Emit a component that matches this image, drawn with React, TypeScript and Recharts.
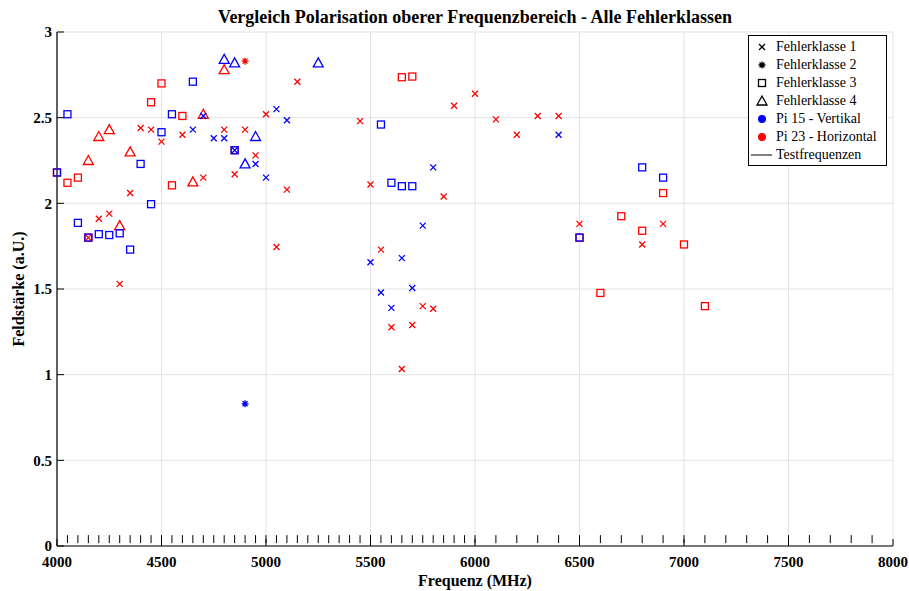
import React from "react";
import { ScatterChart, Scatter, XAxis, YAxis, CartesianGrid } from "recharts";

// x ticks / y ticks
const xTicks = [4000, 4500, 5000, 5500, 6000, 6500, 7000, 7500, 8000];
const yTicks = [0, 0.5, 1, 1.5, 2, 2.5, 3];

// Pi 15 - Vertikal (blau)
const vertKlasse1: [number, number][] = [
    [4650, 2.43], [4700, 2.51], [4750, 2.38], [4800, 2.38], [4850, 2.31], [4950, 2.23],
    [5000, 2.15], [5050, 2.55], [5100, 2.485], [5500, 1.656], [5550, 1.48], [5600, 1.39],
    [5650, 1.68], [5700, 1.506], [5750, 1.87], [5800, 2.21], [6400, 2.4],
];
const vertKlasse2: [number, number][] = [[4900, 0.83]];
const vertKlasse3: [number, number][] = [
    [4000, 2.18], [4050, 2.52], [4100, 1.886], [4150, 1.8], [4200, 1.82], [4250, 1.815],
    [4300, 1.825], [4350, 1.73], [4400, 2.23], [4450, 1.995], [4500, 2.415], [4550, 2.52],
    [4650, 2.71], [4850, 2.31], [5550, 2.46], [5600, 2.12], [5650, 2.1], [5700, 2.1],
    [6500, 1.8], [6800, 2.21], [6900, 2.15],
];
const vertKlasse4: [number, number][] = [
    [4800, 2.84], [4850, 2.82], [4900, 2.23], [4950, 2.39], [5250, 2.82],
];

// Pi 23 - Horizontal (rot)
const horKlasse1: [number, number][] = [
    [4150, 1.8], [4200, 1.91], [4250, 1.94], [4300, 1.53], [4350, 2.06], [4400, 2.44],
    [4450, 2.43], [4500, 2.36], [4600, 2.4], [4700, 2.15], [4800, 2.43], [4850, 2.17],
    [4900, 2.43], [4950, 2.28], [5000, 2.52], [5050, 1.745], [5100, 2.08], [5150, 2.71],
    [5450, 2.48], [5500, 2.11], [5550, 1.73], [5600, 1.277], [5650, 1.033], [5700, 1.29],
    [5750, 1.4], [5800, 1.385], [5850, 2.04], [5900, 2.57], [6000, 2.64], [6100, 2.49],
    [6200, 2.4], [6300, 2.51], [6400, 2.51], [6500, 1.88], [6800, 1.76], [6900, 1.88],
];
const horKlasse2: [number, number][] = [[4900, 2.83]];
const horKlasse3: [number, number][] = [
    [4000, 2.18], [4050, 2.12], [4100, 2.15], [4150, 1.8], [4450, 2.59], [4500, 2.7],
    [4550, 2.105], [4600, 2.51], [4850, 2.31], [5650, 2.736], [5700, 2.74], [6500, 1.8],
    [6600, 1.477], [6700, 1.925], [6800, 1.84], [6900, 2.06], [7000, 1.76], [7100, 1.4],
];
const horKlasse4: [number, number][] = [
    [4150, 2.25], [4200, 2.39], [4250, 2.43], [4300, 1.87], [4350, 2.3], [4650, 2.125],
    [4700, 2.52], [4800, 2.78],
];

// Testfrequenzen (MHz)
const testFrequenzen = [
    4050, 4100, 4150, 4200, 4250, 4300, 4350, 4400, 4450, 4500,
    4550, 4600, 4650, 4700, 4750, 4800, 4850, 4900, 4950, 5000,
    5050, 5100, 5150, 5200, 5250, 5300, 5350, 5400, 5450, 5500,
    5550, 5600, 5650, 5700, 5750, 5800, 5850, 5900, 5950, 6000,
    6100, 6200, 6300, 6400, 6500, 6600, 6700, 6800, 6900, 7000,
    7100, 7200, 7300, 7400, 7500, 7600, 7700, 7800, 7900,
];
const testLevel = 0.04;

const BLUE = "#0000ff";
const RED = "#ff0000";
const FONT = "'Liberation Serif', 'Times New Roman', serif";

const toPts = (arr: [number, number][]) => arr.map(([x, y]) => ({ x, y }));

const crossShape = (color: string) => (p: any) => (
    <path
        d={`M${p.cx - 3},${p.cy - 3}L${p.cx + 3},${p.cy + 3}M${p.cx - 3},${p.cy + 3}L${p.cx + 3},${p.cy - 3}`}
        stroke={color}
        strokeWidth={1.3}
        fill="none"
    />
);

const starShape = (color: string) => (p: any) => {
    const r = 3.5;
    const d = r * 0.707;
    return (
        <path
            d={`M${p.cx - r},${p.cy}L${p.cx + r},${p.cy}M${p.cx},${p.cy - r}L${p.cx},${p.cy + r}` +
                `M${p.cx - d},${p.cy - d}L${p.cx + d},${p.cy + d}M${p.cx - d},${p.cy + d}L${p.cx + d},${p.cy - d}`}
            stroke={color}
            strokeWidth={1.3}
            fill="none"
        />
    );
};

const squareShape = (color: string) => (p: any) => (
    <rect x={p.cx - 3.5} y={p.cy - 3.5} width={7} height={7} stroke={color} strokeWidth={1.3} fill="none" />
);

const triangleShape = (color: string) => (p: any) => (
    <path
        d={`M${p.cx},${p.cy - 5}L${p.cx + 5},${p.cy + 4}L${p.cx - 5},${p.cy + 4}Z`}
        stroke={color}
        strokeWidth={1.3}
        fill="none"
    />
);

const testShape = (p: any) => (
    <line x1={p.cx} x2={p.cx} y1={p.cy - 4} y2={p.cy + 4} stroke="#000" strokeWidth={1} />
);

const tickStyle = { fill: "#000", fontSize: 15, fontWeight: 700, fontFamily: FONT };

const YLabel = ({ viewBox }: any) => {
    const cx = 20;
    const cy = viewBox.y + viewBox.height / 2;
    return (
        <text
            x={cx}
            y={cy}
            transform={`rotate(-90, ${cx}, ${cy})`}
            textAnchor="middle"
            dominantBaseline="middle"
            style={{ fontSize: 16, fontWeight: 700, fontFamily: FONT, fill: "#000" }}
        >
            Feldstärke (a.U.)
        </text>
    );
};

const XLabel = ({ viewBox }: any) => (
    <text
        x={viewBox.x + viewBox.width / 2}
        y={586}
        textAnchor="middle"
        style={{ fontSize: 16, fontWeight: 700, fontFamily: FONT, fill: "#000" }}
    >
        Frequenz (MHz)
    </text>
);

const legendItems = [
    { label: "Fehlerklasse 1", kind: "x" },
    { label: "Fehlerklasse 2", kind: "*" },
    { label: "Fehlerklasse 3", kind: "s" },
    { label: "Fehlerklasse 4", kind: "t" },
    { label: "Pi 15 - Vertikal", kind: "blue" },
    { label: "Pi 23 - Horizontal", kind: "red" },
    { label: "Testfrequenzen", kind: "line" },
];

const LegendIcon = ({ kind }: { kind: string }) => {
    const c = { cx: 12, cy: 9 };
    let el: any = null;
    if (kind === "x") el = crossShape("#000")({ cx: c.cx, cy: c.cy });
    if (kind === "*") el = starShape("#000")({ cx: c.cx, cy: c.cy });
    if (kind === "s") el = squareShape("#000")({ cx: c.cx, cy: c.cy });
    if (kind === "t") el = triangleShape("#000")({ cx: c.cx, cy: c.cy });
    if (kind === "blue") el = <circle cx={c.cx} cy={c.cy} r={4} fill={BLUE} />;
    if (kind === "red") el = <circle cx={c.cx} cy={c.cy} r={4} fill={RED} />;
    if (kind === "line") el = <line x1={1} x2={22} y1={c.cy} y2={c.cy} stroke="#000" strokeWidth={1} />;
    return (
        <svg width={24} height={18} style={{ display: "block" }}>
            {el}
        </svg>
    );
};

const App = () => {
    return (
        <div style={{ position: "absolute", left: 0, top: 0, width: 909, height: 591, background: "#fff", fontFamily: FONT }}>
            <div
                style={{
                    position: "absolute",
                    left: 57,
                    width: 836,
                    top: 7,
                    textAlign: "center",
                    fontSize: 18,
                    fontWeight: 700,
                    color: "#000",
                    lineHeight: "20px",
                }}
            >
                Vergleich Polarisation oberer Frequenzbereich - Alle Fehlerklassen
            </div>
            <ScatterChart width={909} height={591} margin={{ top: 32, right: 16, bottom: 0, left: 0 }}>
                <CartesianGrid stroke="#e3e3e3" strokeWidth={1} />
                <XAxis
                    type="number"
                    dataKey="x"
                    domain={[4000, 8000]}
                    ticks={xTicks}
                    height={45}
                    axisLine={{ stroke: "#000", strokeWidth: 1.2 }}
                    tickLine={{ stroke: "#000" }}
                    tickSize={-7}
                    tickMargin={17}
                    tick={tickStyle}
                    label={<XLabel />}
                />
                <XAxis
                    xAxisId="top"
                    orientation="top"
                    type="number"
                    domain={[4000, 8000]}
                    ticks={xTicks}
                    height={0}
                    axisLine={{ stroke: "#333", strokeWidth: 1.5 }}
                    tickLine={{ stroke: "#333" }}
                    tickSize={-7}
                    tick={false}
                />
                <YAxis
                    type="number"
                    dataKey="y"
                    domain={[0, 3]}
                    ticks={yTicks}
                    width={57}
                    axisLine={{ stroke: "#000", strokeWidth: 1.2 }}
                    tickLine={{ stroke: "#000" }}
                    tickSize={-7}
                    tickMargin={12}
                    tick={tickStyle}
                    label={<YLabel />}
                />
                <YAxis
                    yAxisId="right"
                    orientation="right"
                    type="number"
                    domain={[0, 3]}
                    ticks={yTicks}
                    width={0}
                    axisLine={{ stroke: "#333", strokeWidth: 1.5 }}
                    tickLine={{ stroke: "#333" }}
                    tickSize={-7}
                    tick={false}
                />

                <Scatter data={testFrequenzen.map((x) => ({ x, y: testLevel }))} shape={testShape} isAnimationActive={false} />

                <Scatter data={toPts(horKlasse1)} shape={crossShape(RED)} isAnimationActive={false} />
                <Scatter data={toPts(horKlasse2)} shape={starShape(RED)} isAnimationActive={false} />
                <Scatter data={toPts(horKlasse3)} shape={squareShape(RED)} isAnimationActive={false} />
                <Scatter data={toPts(horKlasse4)} shape={triangleShape(RED)} isAnimationActive={false} />

                <Scatter data={toPts(vertKlasse1)} shape={crossShape(BLUE)} isAnimationActive={false} />
                <Scatter data={toPts(vertKlasse2)} shape={starShape(BLUE)} isAnimationActive={false} />
                <Scatter data={toPts(vertKlasse3)} shape={squareShape(BLUE)} isAnimationActive={false} />
                <Scatter data={toPts(vertKlasse4)} shape={triangleShape(BLUE)} isAnimationActive={false} />
            </ScatterChart>

            <div
                style={{
                    position: "absolute",
                    left: 748,
                    top: 35,
                    width: 136,
                    border: "1px solid #000",
                    background: "#fff",
                    padding: "2px 0 1px 1px",
                    fontSize: 14,
                    color: "#000",
                }}
            >
                {legendItems.map((it) => (
                    <div key={it.label} style={{ display: "flex", alignItems: "center", height: 18, whiteSpace: "nowrap" }}>
                        <LegendIcon kind={it.kind} />
                        <span style={{ marginLeft: 2 }}>{it.label}</span>
                    </div>
                ))}
            </div>
        </div>
    );
};

export default App;
